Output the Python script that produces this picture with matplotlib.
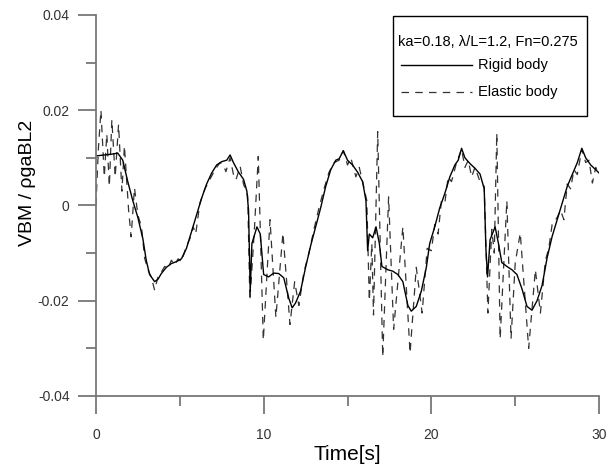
import matplotlib
matplotlib.use("Agg")
import matplotlib.pyplot as plt
from matplotlib.patches import Rectangle
from matplotlib.ticker import MultipleLocator

plt.rcParams['font.family'] = ['Liberation Sans', 'DejaVu Sans']

# rigid body response
t_rigid = [0.0, 0.5, 1.0, 1.3, 1.6, 1.9, 2.2, 2.5, 2.8, 3.0, 3.2, 3.5, 3.7, 3.9,
           4.2, 4.5, 4.8, 5.1, 5.4, 5.7, 6.0, 6.3, 6.6, 6.9, 7.2, 7.5, 7.8, 8.0,
           8.2, 8.5, 8.8, 9.0, 9.1, 9.2, 9.3, 9.6, 9.8, 10.0, 10.3, 10.6, 10.9,
           11.2, 11.5, 11.7, 11.9, 12.2, 12.5, 12.8, 13.1, 13.4, 13.7, 14.0,
           14.3, 14.5, 14.75, 15.0, 15.3, 15.6, 15.9, 16.1, 16.2, 16.3, 16.5,
           16.7, 16.9, 17.05, 17.4, 17.7, 18.0, 18.3, 18.6, 18.8, 19.1, 19.4,
           19.7, 19.9, 20.2, 20.5, 20.8, 21.1, 21.4, 21.6, 21.8, 22.0, 22.3,
           22.6, 22.9, 23.15, 23.25, 23.35, 23.5, 23.8, 24.0, 24.2, 24.5, 24.8,
           25.1, 25.4, 25.7, 26.0, 26.3, 26.6, 26.9, 27.2, 27.5, 27.8, 28.1,
           28.4, 28.7, 28.97, 29.2, 29.5, 29.8, 30.0]
v_rigid = [0.0104, 0.0106, 0.0108, 0.0110, 0.0095, 0.0050, 0.0010, -0.0025,
           -0.0070, -0.0115, -0.0145, -0.0160, -0.0155, -0.0143, -0.0130,
           -0.0122, -0.0118, -0.0112, -0.0090, -0.0055, -0.0020, 0.0015,
           0.0045, 0.0068, 0.0085, 0.0092, 0.0095, 0.0106, 0.0090, 0.0070,
           0.0055, 0.0030, -0.0010, -0.0180, -0.0080, -0.0045, -0.0060,
           -0.0145, -0.0150, -0.0142, -0.0143, -0.0152, -0.0195, -0.0215,
           -0.0205, -0.0180, -0.0130, -0.0085, -0.0045, -0.0005, 0.0040,
           0.0075, 0.0095, 0.0098, 0.0115, 0.0095, 0.0085, 0.0070, 0.0050,
           0.0010, -0.0095, -0.0060, -0.0068, -0.0045, -0.0080, -0.0128,
           -0.0135, -0.0138, -0.0145, -0.0160, -0.0210, -0.0222, -0.0212,
           -0.0180, -0.0130, -0.0080, -0.0045, -0.0005, 0.0025, 0.0060,
           0.0085, 0.0095, 0.0120, 0.0100, 0.0088, 0.0078, 0.0066, 0.0035,
           -0.0090, -0.0150, -0.0072, -0.0045, -0.0080, -0.0120, -0.0128,
           -0.0135, -0.0145, -0.0175, -0.0212, -0.0220, -0.0200, -0.0168,
           -0.0110, -0.0065, -0.0030, 0.0005, 0.0040, 0.0065, 0.0090, 0.0120,
           0.0100, 0.0085, 0.0075, 0.0068]

# elastic body response (with springing / whipping)
t_elastic = [0.0, 0.15, 0.3, 0.5, 0.65, 0.8, 0.95, 1.15, 1.35, 1.55, 1.7, 1.95,
             2.1, 2.3, 2.5, 2.72, 2.9, 3.1, 3.3, 3.5, 3.7, 3.9, 4.1, 4.3, 4.5,
             4.7, 4.9, 5.1, 5.4, 5.6, 5.8, 5.95, 6.2, 6.5, 6.8, 7.1, 7.4, 7.6,
             7.75, 8.0, 8.2, 8.35, 8.6, 8.8, 9.05, 9.18, 9.45, 9.68, 9.98,
             10.38, 10.73, 11.15, 11.57, 11.85, 12.1, 12.4, 12.7, 13.0, 13.3,
             13.6, 13.9, 14.2, 14.5, 14.75, 15.0, 15.2, 15.5, 15.7, 15.9, 16.15,
             16.3, 16.45, 16.55, 16.8, 17.1, 17.45, 17.75, 18.3, 18.73, 19.1,
             19.45, 19.75, 20.0, 20.2, 20.4, 20.6, 20.8, 21.0, 21.2, 21.5, 21.8,
             22.0, 22.2, 22.4, 22.6, 22.9, 23.15, 23.37, 23.6, 23.75, 23.9,
             24.1, 24.5, 24.75, 25.0, 25.3, 25.8, 26.2, 26.5, 26.8, 27.0, 27.2,
             27.5, 27.7, 27.9, 28.1, 28.3, 28.5, 28.7, 28.97, 29.2, 29.4, 29.6,
             29.8, 30.0]
v_elastic = [0.0000, 0.0120, 0.0200, 0.0060, 0.0150, 0.0040, 0.0180, 0.0060,
             0.0170, 0.0030, 0.0125, -0.0010, -0.0066, 0.0037, -0.0020,
             -0.0045, -0.0110, -0.0135, -0.0150, -0.0178, -0.0150, -0.0140,
             -0.0128, -0.0132, -0.0115, -0.0125, -0.0112, -0.0118, -0.0085,
             -0.0070, -0.0045, -0.0060, 0.0005, 0.0035, 0.0055, 0.0075, 0.0090,
             0.0085, 0.0071, 0.0100, 0.0065, 0.0054, 0.0082, 0.0045, 0.0020,
             -0.0200, -0.0050, 0.0103, -0.0283, -0.0030, -0.0235, -0.0058,
             -0.0250, -0.0160, -0.0210, -0.0140, -0.0100, -0.0050, -0.0005,
             0.0035, 0.0070, 0.0090, 0.0095, 0.0115, 0.0085, 0.0100, 0.0060,
             0.0080, 0.0050, 0.0010, -0.0200, -0.0080, -0.0230, 0.0155,
             -0.0318, 0.0018, -0.0260, -0.0045, -0.0310, -0.0130, -0.0226,
             -0.0090, -0.0095, -0.0040, -0.0060, 0.0010, 0.0005, 0.0060,
             0.0050, 0.0090, 0.0118, 0.0080, 0.0095, 0.0060, 0.0080, 0.0050,
             0.0040, -0.0226, -0.0050, -0.0100, 0.0152, -0.0280, 0.0010,
             -0.0280, -0.0120, -0.0058, -0.0300, -0.0135, -0.0226, -0.0115,
             -0.0090, -0.0040, -0.0025, -0.0010, -0.0030, 0.0045, 0.0035,
             0.0075, 0.0065, 0.0118, 0.0090, 0.0095, 0.0047, 0.0080, 0.0065]

legend_title = 'ka=0.18, \u03bb/L=1.2, Fn=0.275'
series_names = ['Rigid body', 'Elastic body']

fig = plt.figure(figsize=(6.07, 4.68), dpi=100)
ax = fig.add_axes([0.158, 0.154, 0.829, 0.814])

elastic_style = dict(color='#333333', lw=0.9, dashes=(6, 5))
rigid_style = dict(color='black', lw=1.0)
ax.plot(t_elastic, v_elastic, **elastic_style)
ax.plot(t_rigid, v_rigid, **rigid_style)

ax.set_xlim(0, 30)
ax.set_ylim(-0.04, 0.04)
ax.xaxis.set_major_locator(MultipleLocator(10))
ax.xaxis.set_minor_locator(MultipleLocator(5))
ax.yaxis.set_minor_locator(MultipleLocator(0.01))
ax.set_yticks([-0.04, -0.02, 0, 0.02, 0.04])
ax.set_yticklabels(['-0.04', '-0.02', '0', '0.02', '0.04'])

for s in ['top', 'right']:
    ax.spines[s].set_visible(False)
for s in ['left', 'bottom']:
    ax.spines[s].set_color('#777777')
    ax.spines[s].set_linewidth(1.3)
ax.tick_params(which='major', length=13, width=1.3, color='#777777',
               labelsize=10, labelcolor='#333333', pad=6)
ax.tick_params(which='minor', length=7, width=1.3, color='#777777')
ax.tick_params(axis='x', pad=10)

ax.set_xlabel('Time[s]', fontsize=15, labelpad=2)
ax.set_ylabel('VBM / \u03c1gaBL2', fontsize=14)
ax.yaxis.set_label_coords(-0.119, 0.56)

# legend box drawn by hand to match the original layout
ax.add_patch(Rectangle((0.590, 0.735), 0.386, 0.262, transform=ax.transAxes,
                       fill=False, edgecolor='black', lw=1.0, clip_on=False))
ax.text(0.600, 0.929, legend_title, transform=ax.transAxes, fontsize=10.5,
        va='center', ha='left')
for yk, name, style in [(0.869, series_names[0], rigid_style),
                        (0.798, series_names[1], elastic_style)]:
    ax.plot([0.606, 0.748], [yk, yk], transform=ax.transAxes, **style)
    ax.text(0.759, yk, name, transform=ax.transAxes, fontsize=10.5,
            va='center', ha='left')

fig.savefig('out.png', dpi=100)
